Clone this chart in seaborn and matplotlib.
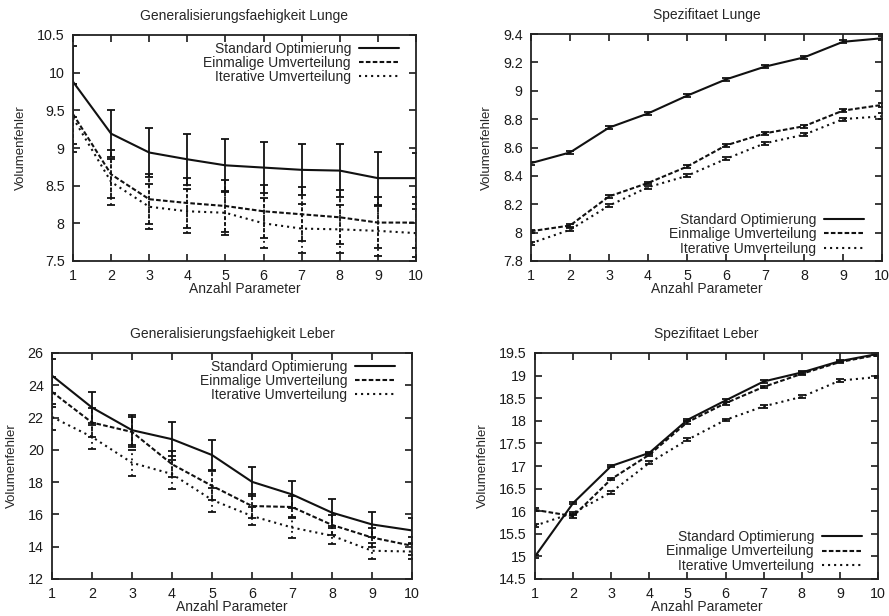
import matplotlib
matplotlib.use("Agg")
import matplotlib.pyplot as plt
from matplotlib.ticker import FormatStrFormatter
import seaborn as sns


# Data
params = [1, 2, 3, 4, 5, 6, 7, 8, 9, 10]
series_names = ["Standard Optimierung", "Einmalige Umverteilung", "Iterative Umverteilung"]

# Generalisierungsfaehigkeit Lunge
lunge_gen_std = [9.88, 9.19, 8.94, 8.85, 8.77, 8.74, 8.71, 8.70, 8.60, 8.60]
lunge_gen_std_err = [0.47, 0.31, 0.33, 0.34, 0.35, 0.34, 0.34, 0.35, 0.35, 0.34]
lunge_gen_ein = [9.45, 8.65, 8.32, 8.27, 8.23, 8.16, 8.12, 8.08, 8.01, 8.01]
lunge_gen_ein_err = [0.40, 0.32, 0.33, 0.33, 0.35, 0.35, 0.36, 0.36, 0.34, 0.34]
lunge_gen_it = [9.40, 8.55, 8.22, 8.16, 8.14, 8.00, 7.93, 7.92, 7.90, 7.87]
lunge_gen_it_err = [0.45, 0.31, 0.30, 0.29, 0.29, 0.33, 0.33, 0.32, 0.33, 0.32]

# Spezifitaet Lunge
lunge_spez_std = [8.49, 8.565, 8.74, 8.84, 8.965, 9.08, 9.17, 9.235, 9.345, 9.37]
lunge_spez_std_err = [0.01, 0.01, 0.01, 0.01, 0.01, 0.01, 0.01, 0.01, 0.01, 0.015]
lunge_spez_ein = [8.01, 8.05, 8.255, 8.35, 8.465, 8.615, 8.70, 8.75, 8.86, 8.90]
lunge_spez_ein_err = [0.01, 0.01, 0.01, 0.01, 0.01, 0.01, 0.01, 0.01, 0.01, 0.012]
lunge_spez_it = [7.925, 8.02, 8.19, 8.32, 8.40, 8.52, 8.63, 8.69, 8.80, 8.82]
lunge_spez_it_err = [0.01, 0.01, 0.01, 0.01, 0.01, 0.01, 0.01, 0.01, 0.01, 0.02]

# Generalisierungsfaehigkeit Leber
leber_gen_std = [24.6, 22.62, 21.22, 20.66, 19.68, 18.02, 17.24, 16.11, 15.38, 15.01]
leber_gen_std_err = [1.05, 0.97, 0.95, 1.05, 0.93, 0.90, 0.82, 0.82, 0.80, 0.78]
leber_gen_ein = [23.59, 21.69, 21.11, 19.11, 17.77, 16.52, 16.46, 15.35, 14.57, 14.06]
leber_gen_ein_err = [0.95, 0.90, 0.93, 0.80, 0.90, 0.72, 0.70, 0.60, 0.60, 0.55]
leber_gen_it = [22.04, 20.80, 19.20, 18.50, 16.90, 15.90, 15.19, 14.68, 13.75, 13.70]
leber_gen_it_err = [0.80, 0.75, 0.80, 0.90, 0.75, 0.55, 0.62, 0.50, 0.50, 0.46]

# Spezifitaet Leber
leber_spez_std = [15.0, 16.18, 17.0, 17.29, 18.02, 18.45, 18.87, 19.07, 19.32, 19.48]
leber_spez_std_err = [0.03, 0.03, 0.03, 0.03, 0.03, 0.03, 0.03, 0.03, 0.03, 0.04]
leber_spez_ein = [16.03, 15.89, 16.71, 17.25, 17.97, 18.39, 18.75, 19.04, 19.30, 19.46]
leber_spez_ein_err = [0.03, 0.03, 0.03, 0.03, 0.03, 0.03, 0.03, 0.03, 0.03, 0.03]
leber_spez_it = [15.68, 15.96, 16.42, 17.07, 17.58, 18.02, 18.32, 18.53, 18.89, 18.97]
leber_spez_it_err = [0.03, 0.03, 0.03, 0.03, 0.03, 0.03, 0.03, 0.03, 0.03, 0.03]

# Achsen
yticks_lunge_gen = [7.5, 8, 8.5, 9, 9.5, 10, 10.5]
yticks_lunge_spez = [7.8, 8.0, 8.2, 8.4, 8.6, 8.8, 9.0, 9.2, 9.4]
yticks_leber_gen = [12, 14, 16, 18, 20, 22, 24, 26]
yticks_leber_spez = [14.5, 15, 15.5, 16, 16.5, 17, 17.5, 18, 18.5, 19, 19.5]


# Style
sns.set_style("ticks")
plt.rcParams['font.family'] = ['Liberation Sans', 'DejaVu Sans']

line_color = "#111111"
line_styles = ["-", (0, (2.2, 1.1)), (0, (1.0, 1.9))]
W, H = 889, 616


def make_axes(fig, left, right, top, bottom):
    return fig.add_axes([left / W, 1 - bottom / H, (right - left) / W, (bottom - top) / H])


def draw_panel(ax, title, values, errors, yticks, legend_loc, legend_anchor):
    for name, y, err, ls in zip(series_names, values, errors, line_styles):
        sns.lineplot(x=params, y=y, ax=ax, color=line_color, linestyle=ls,
                     linewidth=1.5, label=name)
        eb = ax.errorbar(params, y, yerr=err, fmt='none', ecolor=line_color,
                         elinewidth=1.3, capsize=3, capthick=1.3)
        eb[2][0].set_linestyle(ls)

    ax.set_xlim(1, 10)
    ax.set_xticks(params)
    ax.set_ylim(yticks[0], yticks[-1])
    ax.set_yticks(yticks)
    ax.yaxis.set_major_formatter(FormatStrFormatter('%g'))
    ax.tick_params(direction='in', top=True, right=True, length=5, width=1.2,
                   pad=6, labelsize=10.3, colors="#1a1a1a")
    for s in ax.spines.values():
        s.set_linewidth(1.3)
        s.set_color("#222222")
    ax.set_title(title, fontsize=10, pad=11)
    ax.set_xlabel("Anzahl Parameter", fontsize=10, labelpad=-1)
    ax.set_ylabel("Volumenfehler", fontsize=9.5, labelpad=7)
    ax.legend(loc=legend_loc, bbox_to_anchor=legend_anchor, frameon=False,
              markerfirst=False, handlelength=2.9, handletextpad=0.55,
              labelspacing=0.02, borderpad=0, borderaxespad=0, fontsize=10)


fig = plt.figure(figsize=(W / 100, H / 100), dpi=100)

ax1 = make_axes(fig, 73, 416, 35, 261)
draw_panel(ax1, "Generalisierungsfaehigkeit Lunge",
           [lunge_gen_std, lunge_gen_ein, lunge_gen_it],
           [lunge_gen_std_err, lunge_gen_ein_err, lunge_gen_it_err],
           yticks_lunge_gen, "upper right", (0.950, 0.970))

ax2 = make_axes(fig, 531, 882, 34, 261)
draw_panel(ax2, "Spezifitaet Lunge",
           [lunge_spez_std, lunge_spez_ein, lunge_spez_it],
           [lunge_spez_std_err, lunge_spez_ein_err, lunge_spez_it_err],
           yticks_lunge_spez, "lower right", (0.949, 0.024))

ax3 = make_axes(fig, 52, 412, 353, 579)
draw_panel(ax3, "Generalisierungsfaehigkeit Leber",
           [leber_gen_std, leber_gen_ein, leber_gen_it],
           [leber_gen_std_err, leber_gen_ein_err, leber_gen_it_err],
           yticks_leber_gen, "upper right", (0.953, 0.970))

ax4 = make_axes(fig, 535, 878, 353, 579)
draw_panel(ax4, "Spezifitaet Leber",
           [leber_spez_std, leber_spez_ein, leber_spez_it],
           [leber_spez_std_err, leber_spez_ein_err, leber_spez_it_err],
           yticks_leber_spez, "lower right", (0.953, 0.028))

plt.savefig("out.png", dpi=100)
